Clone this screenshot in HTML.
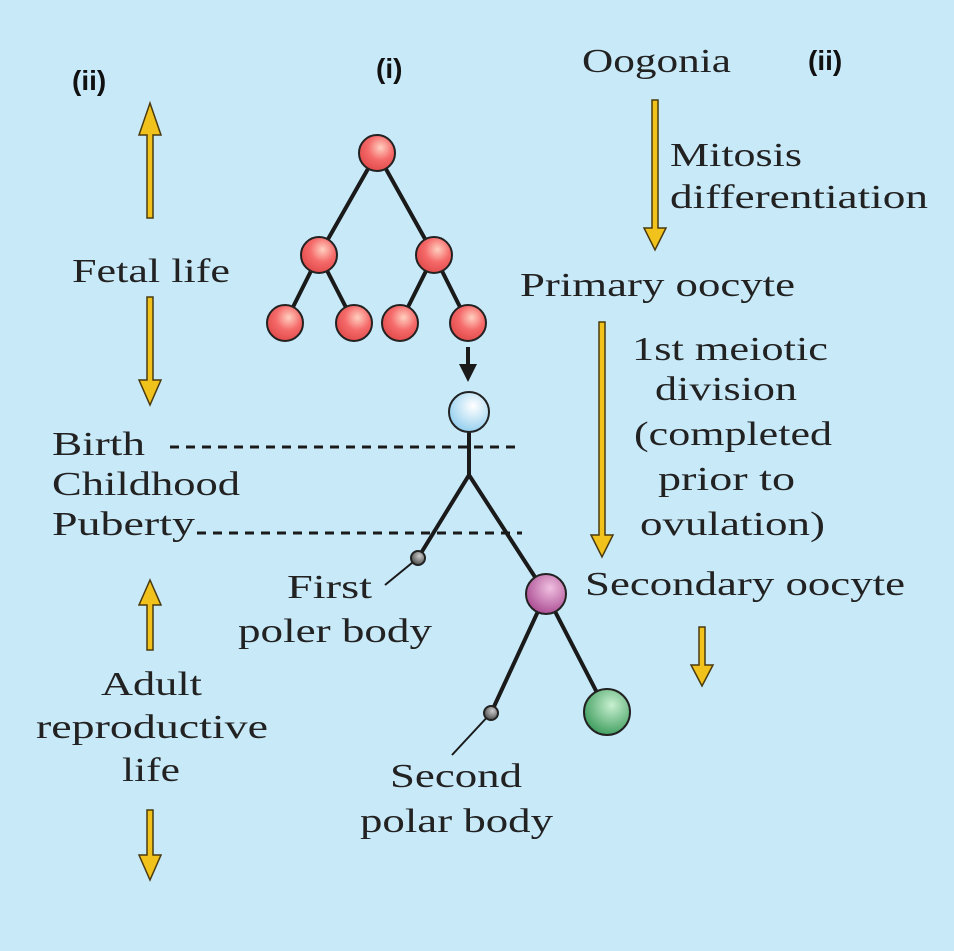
<!DOCTYPE html>
<html><head><style>body{margin:0;background:#c8e9f8}svg{display:block}</style></head><body>
<svg width="954" height="951" viewBox="0 0 954 951" xmlns="http://www.w3.org/2000/svg">
<defs>
<radialGradient id="r" cx="0.6" cy="0.35" r="0.7"><stop offset="0" stop-color="#ffd0c0"/><stop offset="0.5" stop-color="#f56a6a"/><stop offset="1" stop-color="#e04848"/></radialGradient>
<radialGradient id="b" cx="0.6" cy="0.35" r="0.7"><stop offset="0" stop-color="#ffffff"/><stop offset="1" stop-color="#8fcdee"/></radialGradient>
<radialGradient id="p" cx="0.6" cy="0.35" r="0.7"><stop offset="0" stop-color="#f0c0e0"/><stop offset="1" stop-color="#a84890"/></radialGradient>
<radialGradient id="g" cx="0.6" cy="0.35" r="0.7"><stop offset="0" stop-color="#c8f0d0"/><stop offset="1" stop-color="#3a9a5a"/></radialGradient>
<radialGradient id="k" cx="0.6" cy="0.35" r="0.7"><stop offset="0" stop-color="#ccc"/><stop offset="1" stop-color="#444"/></radialGradient>
</defs>
<rect width="954" height="951" fill="#c8e9f8"/>
<g fill="none" stroke="#1a1a1a" stroke-width="4">
<path d="M377 153L319 255M377 153L434 255M319 255L285 323M319 255L354 323M434 255L400 323M434 255L468 323"/>
<path d="M469 412V475L418 558M469 475L546 594L491 713M546 594L607 712"/>
</g>
<g stroke="#1a1a1a" stroke-width="2">
<path d="M418 558L385 585M491 713L452 755"/>
</g>
<g stroke="#222" stroke-width="2">
<circle cx="377" cy="153" r="18" fill="url(#r)"/>
<circle cx="319" cy="255" r="18" fill="url(#r)"/><circle cx="434" cy="255" r="18" fill="url(#r)"/>
<circle cx="285" cy="323" r="18" fill="url(#r)"/><circle cx="354" cy="323" r="18" fill="url(#r)"/>
<circle cx="400" cy="323" r="18" fill="url(#r)"/><circle cx="468" cy="323" r="18" fill="url(#r)"/>
<circle cx="469" cy="412" r="20" fill="url(#b)"/>
<circle cx="546" cy="594" r="20" fill="url(#p)"/>
<circle cx="607" cy="712" r="23" fill="url(#g)"/>
<circle cx="418" cy="558" r="7" fill="url(#k)"/>
<circle cx="491" cy="713" r="7" fill="url(#k)"/>
</g>
<path d="M468 347V366" stroke="#1a1a1a" stroke-width="4"/><path d="M459 364H477L468 382Z" fill="#1a1a1a"/>
<g stroke="#1a1a1a" stroke-width="3" stroke-dasharray="9 7">
<path d="M170 447H520M197 533H522"/>
</g>
<g fill="#f2c21c" stroke="#4a3a10" stroke-width="1.5">
<path d="M147 218V135H139L150 103L161 135H153V218Z"/>
<path d="M147 297V380H139L150 405L161 380H153V297Z"/>
<path d="M147 650V605H139L150 580L161 605H153V650Z"/>
<path d="M147 810V855H139L150 880L161 855H153V810Z"/>
<path d="M652 100V228H644L655 250L666 228H658V100Z"/>
<path d="M599 322V535H591L602 557L613 535H605V322Z"/>
<path d="M699 627V665H691L702 686L713 665H705V627Z"/>
</g>
<g font-family="Liberation Sans, sans-serif" font-weight="bold" font-size="28" fill="#111">
<text x="72" y="90">(ii)</text><text x="376" y="78">(i)</text><text x="808" y="70">(ii)</text>
</g>
<g font-family="Liberation Serif, serif" font-size="34" fill="#222" lengthAdjust="spacingAndGlyphs">
<text x="582" y="72" textLength="149" lengthAdjust="spacingAndGlyphs">Oogonia</text>
<text x="670" y="166" textLength="132" lengthAdjust="spacingAndGlyphs">Mitosis</text>
<text x="670" y="208" textLength="258" lengthAdjust="spacingAndGlyphs">differentiation</text>
<text x="520" y="296" textLength="275" lengthAdjust="spacingAndGlyphs">Primary oocyte</text>
<text x="632" y="360" textLength="196" lengthAdjust="spacingAndGlyphs">1st meiotic</text>
<text x="655" y="400" textLength="142" lengthAdjust="spacingAndGlyphs">division</text>
<text x="634" y="445" textLength="198" lengthAdjust="spacingAndGlyphs">(completed</text>
<text x="658" y="490" textLength="137" lengthAdjust="spacingAndGlyphs">prior to</text>
<text x="640" y="535" textLength="185" lengthAdjust="spacingAndGlyphs">ovulation)</text>
<text x="585" y="595" textLength="320" lengthAdjust="spacingAndGlyphs">Secondary oocyte</text>
<text x="72" y="282" textLength="158" lengthAdjust="spacingAndGlyphs">Fetal life</text>
<text x="52" y="455" textLength="93" lengthAdjust="spacingAndGlyphs">Birth</text>
<text x="52" y="495" textLength="188" lengthAdjust="spacingAndGlyphs">Childhood</text>
<text x="52" y="535" textLength="143" lengthAdjust="spacingAndGlyphs">Puberty</text>
<text x="287" y="598" textLength="85" lengthAdjust="spacingAndGlyphs">First</text>
<text x="238" y="642" textLength="194" lengthAdjust="spacingAndGlyphs">poler body</text>
<text x="101" y="695" textLength="101" lengthAdjust="spacingAndGlyphs">Adult</text>
<text x="36" y="738" textLength="232" lengthAdjust="spacingAndGlyphs">reproductive</text>
<text x="122" y="781" textLength="58" lengthAdjust="spacingAndGlyphs">life</text>
<text x="390" y="787" textLength="132" lengthAdjust="spacingAndGlyphs">Second</text>
<text x="360" y="832" textLength="193" lengthAdjust="spacingAndGlyphs">polar body</text>
</g>
</svg>
</body></html>
